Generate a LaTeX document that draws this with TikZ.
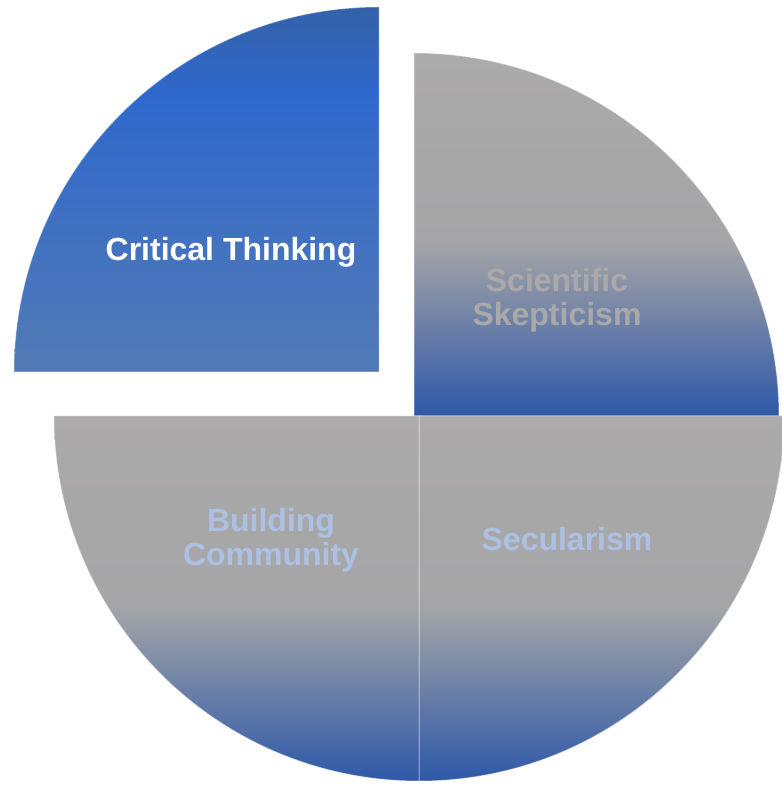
\documentclass[tikz,border=0pt]{standalone}
\usepackage{fontspec}
\setmainfont{Liberation Sans}
\definecolor{piegray}{RGB}{172,170,170}
\definecolor{piegraymid}{RGB}{165,165,167}
\definecolor{pieblue}{RGB}{46,88,168}
\definecolor{critdark}{RGB}{52,98,168}
\definecolor{critbright}{RGB}{47,104,205}
\definecolor{critlight}{RGB}{82,122,181}
\definecolor{labelblue}{RGB}{172,192,228}
\definecolor{labelgray}{RGB}{170,168,168}
\pgfdeclareverticalshading{grayfade}{100bp}{color(0bp)=(pieblue); color(25bp)=(pieblue); color(49bp)=(piegraymid); color(75bp)=(piegray); color(100bp)=(piegray)}
\pgfdeclareverticalshading{critfade}{100bp}{color(0bp)=(critlight); color(25bp)=(critlight); color(63bp)=(critbright); color(75bp)=(critdark); color(100bp)=(critdark)}
\begin{document}
\begin{tikzpicture}[x=1pt, y=1pt,
    every node/.style={font=\fontsize{32pt}{34pt}\selectfont\bfseries, align=center, inner sep=0pt},
    sector/.style={draw=white, draw opacity=0.35, line width=1pt}]
        \useasboundingbox (0,0) rectangle (782,785);
        % quarters
        \shade[sector, shading=critfade] (379,413) -- ++(-365,0) arc[start angle=180, end angle=90, radius=365pt] -- cycle;
        \shade[sector, shading=grayfade] (414,369) -- ++(0,363) arc[start angle=90, end angle=0, x radius=365pt, y radius=363pt] -- cycle;
        \shade[sector, shading=grayfade] (419,369) -- ++(365,0) arc[start angle=0, end angle=-90, radius=365pt] -- cycle;
        \shade[sector, shading=grayfade] (419,369) -- ++(0,-365) arc[start angle=270, end angle=180, radius=365pt] -- cycle;
        % labels
        \node[text=white] (crit) at (231,533) {Critical Thinking};
        \node[text=labelgray] (sci) at (557,485) {Scientific\\Skepticism};
        \node[text=labelblue] (sec) at (567,246) {Secularism};
        \node[text=labelblue] (build) at (271,245) {Building\\Community};
\end{tikzpicture}
\end{document}
